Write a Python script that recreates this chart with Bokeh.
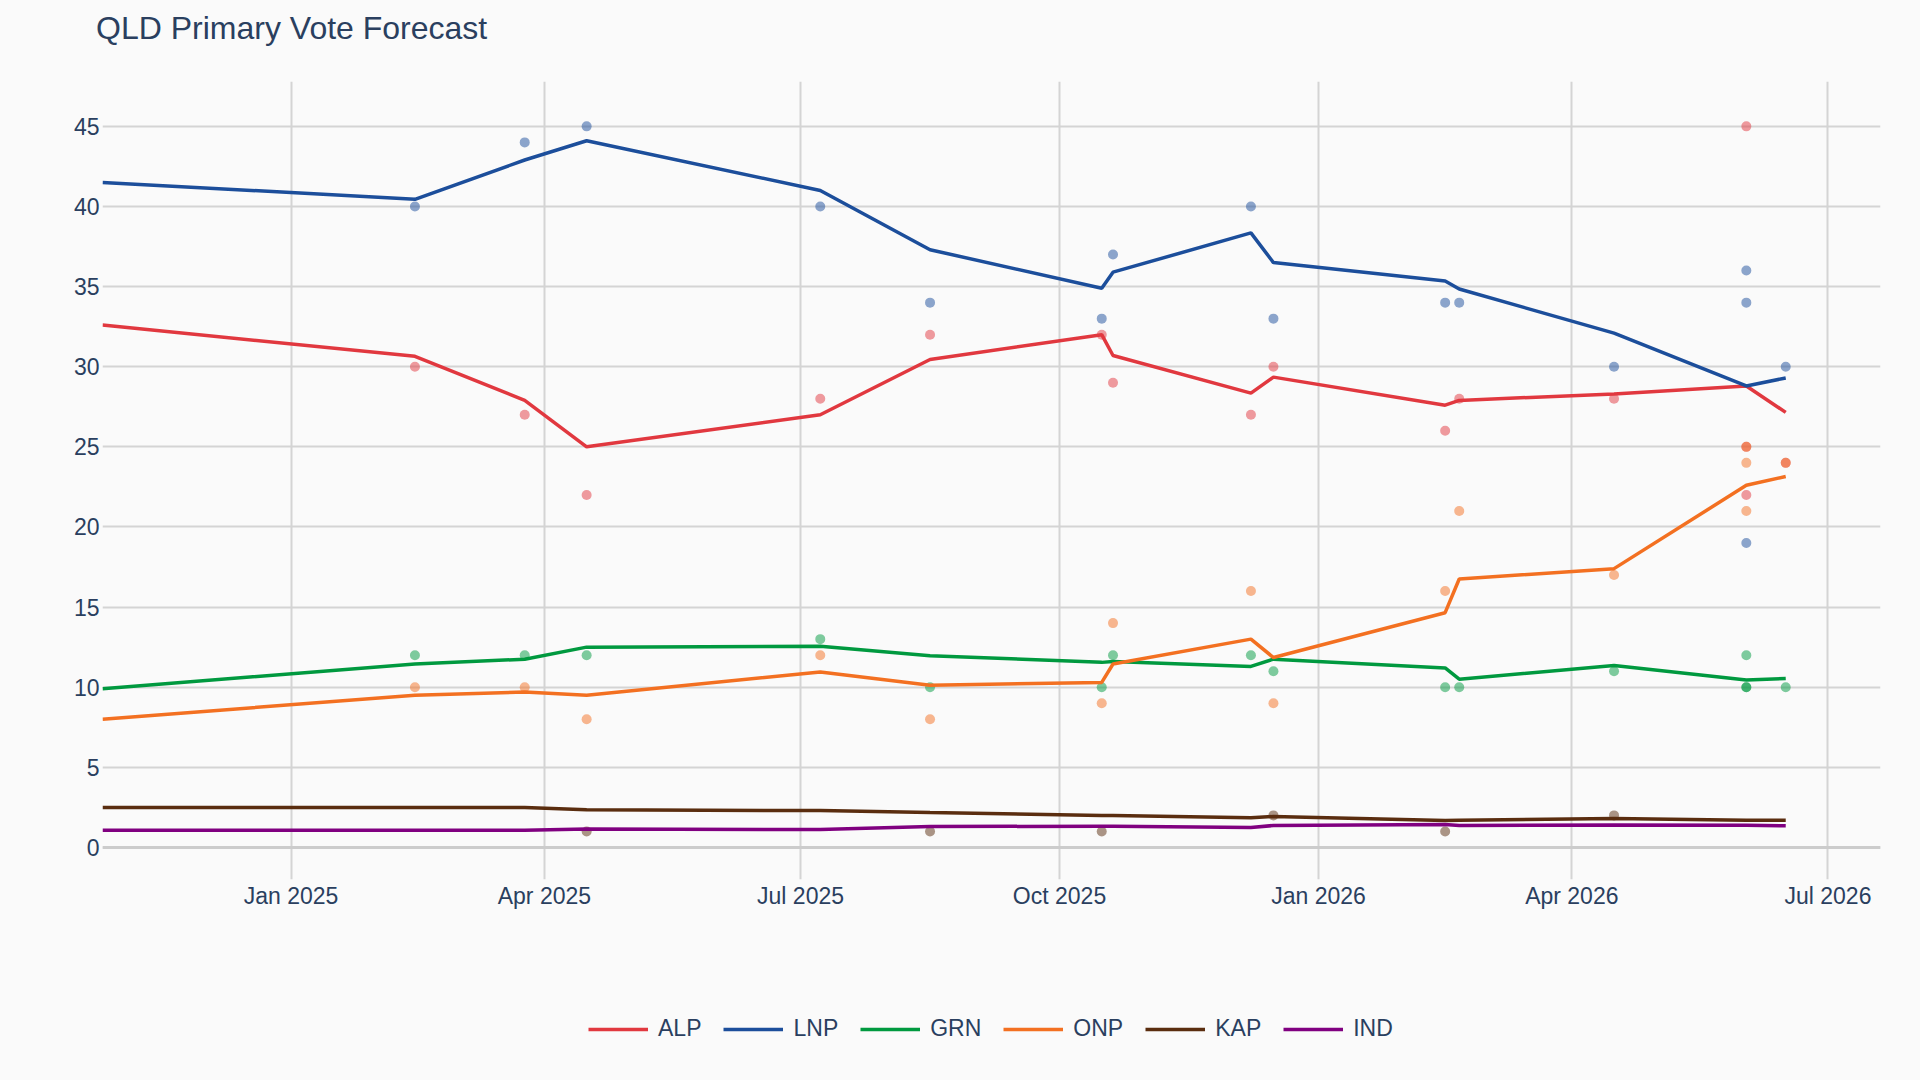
from datetime import datetime

from bokeh.embed import file_html
from bokeh.layouts import column
from bokeh.models import (ColumnDataSource, DatetimeTickFormatter, Div, FixedTicker,
                          Legend, LegendItem, Range1d, Span)
from bokeh.plotting import figure
from bokeh.resources import INLINE

# --- Smoothed trend (one vertex per poll date, starting at the 2024 election) ---
trend_dates = ["2024-10-26", "2025-02-14", "2025-03-25", "2025-04-16", "2025-07-08",
               "2025-08-16", "2025-10-16", "2025-10-20", "2025-12-08", "2025-12-16",
               "2026-02-15", "2026-02-20", "2026-04-16", "2026-06-02", "2026-06-16"]
alp_trend = [32.6, 30.65, 27.9, 25.0, 27.0, 30.45, 32.0, 30.7, 28.35, 29.35, 27.6, 27.9, 28.3, 28.8, 27.15]
lnp_trend = [41.5, 40.45, 42.9, 44.1, 41.0, 37.3, 34.9, 35.9, 38.35, 36.5, 35.35, 34.85, 32.1, 28.8, 29.3]
grn_trend = [9.9, 11.45, 11.75, 12.5, 12.55, 11.97, 11.55, 11.6, 11.3, 11.75, 11.2, 10.5, 11.35, 10.45, 10.55]
onp_trend = [8.0, 9.5, 9.7, 9.5, 10.95, 10.12, 10.3, 11.45, 13.0, 11.85, 14.65, 16.75, 17.4, 22.6, 23.15]
kap_trend = [2.5, 2.5, 2.5, 2.35, 2.3, 2.18, 2.0, 2.0, 1.85, 1.93, 1.68, 1.7, 1.8, 1.7, 1.7]
ind_trend = [1.08, 1.08, 1.08, 1.15, 1.12, 1.3, 1.33, 1.33, 1.25, 1.37, 1.43, 1.37, 1.4, 1.38, 1.35]

# --- Individual polls (None = not reported) ---
poll_dates = ["2025-02-14", "2025-03-25", "2025-04-16", "2025-07-08", "2025-08-16",
              "2025-10-16", "2025-10-20", "2025-12-08", "2025-12-16", "2026-02-15",
              "2026-02-20", "2026-04-16", "2026-06-02", "2026-06-02", "2026-06-02",
              "2026-06-16"]
alp_poll = [30, 27, 22, 28, 32, 32, 29, 27, 30, 26, 28, 28, 25, 22, 45, 24]
lnp_poll = [40, 44, 45, 40, 34, 33, 37, 40, 33, 34, 34, 30, 36, 34, 19, 30]
grn_poll = [12, 12, 12, 13, 10, 10, 12, 12, 11, 10, 10, 11, 12, 10, 10, 10]
onp_poll = [10, 10, 8, 12, 8, 9, 14, 16, 9, 16, 21, 17, 25, 24, 21, 24]
kap_poll = [None, None, 1, None, 1, 1, None, None, 2, 1, None, 2, None, None, None, None]
ind_poll = [None] * 16

parties = ["ALP", "LNP", "GRN", "ONP", "KAP", "IND"]
party_colors = ["#e1383f", "#1c4e9b", "#00993f", "#f37021", "#5a2d0f", "#800080"]
trends = [alp_trend, lnp_trend, grn_trend, onp_trend, kap_trend, ind_trend]
polls = [alp_poll, lnp_poll, grn_poll, onp_poll, kap_poll, ind_poll]

x_tick_dates = ["2025-01-01", "2025-04-01", "2025-07-01", "2025-10-01",
                "2026-01-01", "2026-04-01", "2026-07-01"]
y_ticks = [0, 5, 10, 15, 20, 25, 30, 35, 40, 45]
chart_title = "QLD Primary Vote Forecast"

TEXT = "#2a3f5f"
FONT = "Liberation Sans"
BG = "#fafafa"


def to_dt(s):
    return datetime.strptime(s, "%Y-%m-%d")


def to_ms(s):
    return (to_dt(s) - datetime(1970, 1, 1)).total_seconds() * 1000.0


# ---------------- heading ----------------
heading = Div(
    text=(f'<div style="padding:12px 0 0 96px; font-family:\'{FONT}\'; '
          f'font-size:32px; line-height:32px; color:{TEXT}; white-space:nowrap;">'
          f'{chart_title}</div>'),
    width=1920, height=81,
    styles={"background-color": BG, "margin": "0", "padding": "0"})

# ---------------- main chart ----------------
p = figure(width=1920, height=859, frame_width=1778, frame_height=798,
           x_axis_type="datetime",
           x_range=Range1d(datetime(2024, 10, 26), datetime(2026, 7, 19, 16)),
           y_range=Range1d(-2, 47.8),
           output_backend="svg", toolbar_location=None,
           min_border_left=102, min_border_right=40,
           min_border_top=0, min_border_bottom=61,
           background_fill_color=BG, border_fill_color=BG,
           outline_line_color=None)
main_x = p.below[0]
main_y = p.left[0]

# grid
p.xgrid.grid_line_color = "#d4d4d4"
p.ygrid.grid_line_color = "#d4d4d4"
p.xgrid.grid_line_width = 2
p.ygrid.grid_line_width = 2
p.add_layout(Span(location=0, dimension="width", line_color="#cccccc",
                  line_width=3, level="underlay"))

# axes
main_x.ticker = FixedTicker(ticks=[to_ms(d) for d in x_tick_dates])
main_x.formatter = DatetimeTickFormatter(days="%b %Y", months="%b %Y", years="%b %Y")
main_y.ticker = FixedTicker(ticks=y_ticks)
for ax in (main_x, main_y):
    ax.axis_line_color = None
    ax.major_tick_line_color = None
    ax.minor_tick_line_color = None
    ax.major_tick_out = 0
    ax.major_tick_in = 0
    ax.major_label_text_font = FONT
    ax.major_label_text_font_size = "23px"
    ax.major_label_text_color = TEXT
main_x.major_label_standoff = 3
main_y.major_label_standoff = 3

# polls as translucent dots
for name, color, vals in zip(parties, party_colors, polls):
    xs = [to_dt(d) for d, v in zip(poll_dates, vals) if v is not None]
    ys = [v for v in vals if v is not None]
    if xs:
        p.scatter(x=xs, y=ys, size=10, color=color, alpha=0.5, line_color=None)

# trend lines
for name, color, vals in zip(parties, party_colors, trends):
    src = ColumnDataSource(dict(x=[to_dt(d) for d in trend_dates], y=vals))
    p.line("x", "y", source=src, line_color=color, line_width=3.5)

# ---------------- legend strip under the chart ----------------
# (its frame is aligned with the chart frame by the column layout; the series
#  are re-drawn here only as legend sources and fall outside this strip's ranges)
leg = figure(width=1920, height=140, x_range=Range1d(0, 1), y_range=Range1d(0, 1),
             output_backend="svg", toolbar_location=None,
             x_axis_location=None, y_axis_location=None,
             min_border_left=102, min_border_right=40,
             min_border_top=0, min_border_bottom=0,
             background_fill_color=BG, border_fill_color=BG,
             outline_line_color=None)
leg.xgrid.visible = False
leg.ygrid.visible = False

items = []
for name, color, vals in zip(parties, party_colors, trends):
    r = leg.line(x=[to_dt(d) for d in trend_dates], y=vals, line_color=color, line_width=3.5)
    items.append(LegendItem(label=name, renderers=[r]))

legend = Legend(items=items, orientation="horizontal", location=(486, 38),
                glyph_width=60, glyph_height=20, label_standoff=10, spacing=22,
                padding=0, margin=0, background_fill_alpha=0,
                border_line_color=None, label_text_font=FONT,
                label_text_font_size="23px", label_text_color=TEXT)
leg.add_layout(legend, "center")

page = column(heading, p, leg, spacing=0, styles={"background-color": BG})
open("out.html", "w").write(file_html(page, INLINE))
